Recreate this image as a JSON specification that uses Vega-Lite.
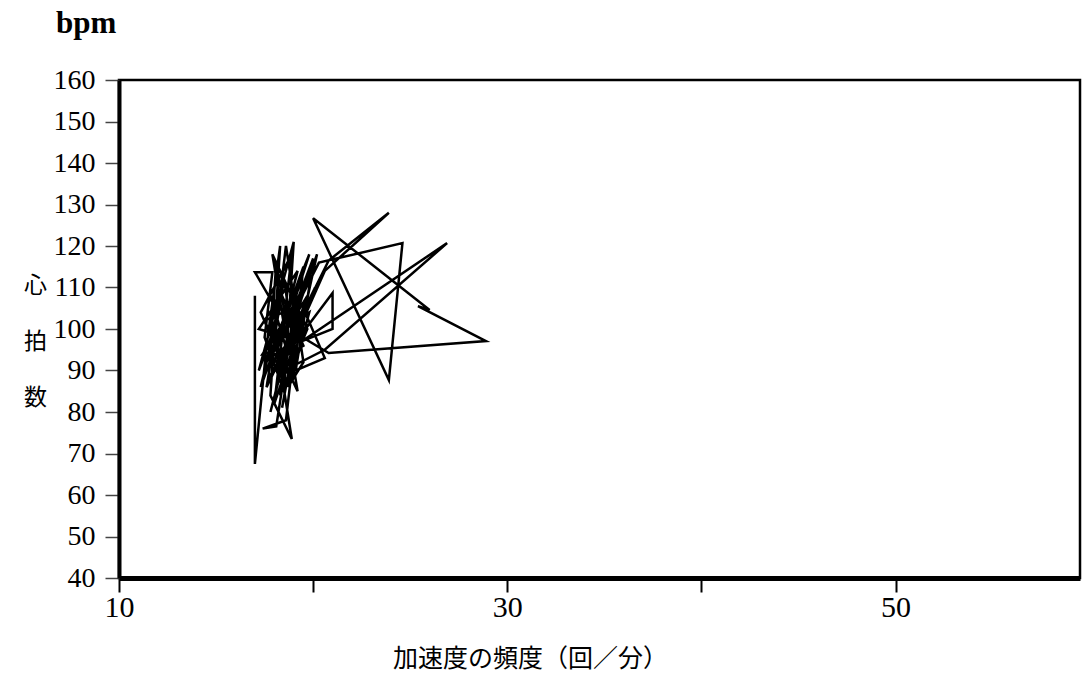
{
  "$schema": "https://vega.github.io/schema/vega-lite/v6.json",
  "width": 961,
  "height": 498,
  "autosize": {"type": "none"},
  "padding": {"left": 119, "top": 80, "right": 2, "bottom": 113},
  "background": "white",
  "config": {
    "view": {"stroke": "black", "strokeWidth": 2.5},
    "font": "Liberation Serif"
  },
  "title": {
    "text": "bpm",
    "anchor": "start",
    "frame": "group",
    "font": "Liberation Serif",
    "fontSize": 31,
    "fontWeight": "bold",
    "color": "black",
    "dx": -63,
    "offset": 2,
    "baseline": "alphabetic"
  },
  "data": {
    "values": [
      {"i": 1, "freq": 17.0, "hr": 108.0},
      {"i": 2, "freq": 17.0, "hr": 67.5},
      {"i": 3, "freq": 17.6, "hr": 96},
      {"i": 4, "freq": 18.3, "hr": 120},
      {"i": 5, "freq": 17.8, "hr": 84},
      {"i": 6, "freq": 18.9, "hr": 73.5},
      {"i": 7, "freq": 18.0, "hr": 100},
      {"i": 8, "freq": 17.2, "hr": 90},
      {"i": 9, "freq": 19.0, "hr": 121},
      {"i": 10, "freq": 18.5, "hr": 85},
      {"i": 11, "freq": 17.5, "hr": 98},
      {"i": 12, "freq": 17.9, "hr": 113.7},
      {"i": 13, "freq": 17.0, "hr": 113.7},
      {"i": 14, "freq": 18.2, "hr": 104},
      {"i": 15, "freq": 17.3, "hr": 86},
      {"i": 16, "freq": 19.5, "hr": 115},
      {"i": 17, "freq": 18.6, "hr": 78},
      {"i": 18, "freq": 17.4, "hr": 76},
      {"i": 19, "freq": 18.1, "hr": 76.5},
      {"i": 20, "freq": 19.2, "hr": 110},
      {"i": 21, "freq": 17.6, "hr": 92},
      {"i": 22, "freq": 19.8, "hr": 118},
      {"i": 23, "freq": 18.3, "hr": 96},
      {"i": 24, "freq": 20.0, "hr": 117},
      {"i": 25, "freq": 18.2, "hr": 88},
      {"i": 26, "freq": 19.7, "hr": 108},
      {"i": 27, "freq": 17.9, "hr": 94},
      {"i": 28, "freq": 20.3, "hr": 116},
      {"i": 29, "freq": 24.6, "hr": 120.7},
      {"i": 30, "freq": 23.9, "hr": 87.7},
      {"i": 31, "freq": 20.0, "hr": 126.7},
      {"i": 32, "freq": 26.0, "hr": 104.6},
      {"i": 33, "freq": 25.4, "hr": 105.5},
      {"i": 34, "freq": 28.9, "hr": 97.1},
      {"i": 35, "freq": 20.8, "hr": 94.2},
      {"i": 36, "freq": 19.1, "hr": 99},
      {"i": 37, "freq": 18.4, "hr": 81},
      {"i": 38, "freq": 19.3, "hr": 104},
      {"i": 39, "freq": 18.0, "hr": 90},
      {"i": 40, "freq": 20.8, "hr": 116.5},
      {"i": 41, "freq": 23.9, "hr": 128},
      {"i": 42, "freq": 20.6, "hr": 114},
      {"i": 43, "freq": 18.8, "hr": 95},
      {"i": 44, "freq": 21.0, "hr": 108.7},
      {"i": 45, "freq": 21.0, "hr": 100},
      {"i": 46, "freq": 19.4, "hr": 97},
      {"i": 47, "freq": 26.9, "hr": 120.7},
      {"i": 48, "freq": 20.6, "hr": 95},
      {"i": 49, "freq": 18.5, "hr": 90},
      {"i": 50, "freq": 19.6, "hr": 112},
      {"i": 51, "freq": 17.8, "hr": 80},
      {"i": 52, "freq": 19.0, "hr": 102},
      {"i": 53, "freq": 20.2, "hr": 118},
      {"i": 54, "freq": 18.7, "hr": 86},
      {"i": 55, "freq": 19.5, "hr": 92},
      {"i": 56, "freq": 18.6, "hr": 120},
      {"i": 57, "freq": 18.0, "hr": 97},
      {"i": 58, "freq": 19.9, "hr": 113},
      {"i": 59, "freq": 19.1, "hr": 90},
      {"i": 60, "freq": 20.6, "hr": 93},
      {"i": 61, "freq": 19.4, "hr": 106},
      {"i": 62, "freq": 17.5, "hr": 102},
      {"i": 63, "freq": 19.2, "hr": 85},
      {"i": 64, "freq": 18.1, "hr": 116},
      {"i": 65, "freq": 17.7, "hr": 88},
      {"i": 66, "freq": 19.6, "hr": 104},
      {"i": 67, "freq": 18.4, "hr": 92},
      {"i": 68, "freq": 17.3, "hr": 104},
      {"i": 69, "freq": 18.9, "hr": 118},
      {"i": 70, "freq": 18.0, "hr": 82},
      {"i": 71, "freq": 19.3, "hr": 100},
      {"i": 72, "freq": 17.8, "hr": 108},
      {"i": 73, "freq": 18.7, "hr": 94},
      {"i": 74, "freq": 20.1, "hr": 110},
      {"i": 75, "freq": 17.6, "hr": 86},
      {"i": 76, "freq": 18.5, "hr": 112},
      {"i": 77, "freq": 19.0, "hr": 96},
      {"i": 78, "freq": 17.4, "hr": 94},
      {"i": 79, "freq": 18.8, "hr": 104},
      {"i": 80, "freq": 18.3, "hr": 84},
      {"i": 81, "freq": 19.7, "hr": 100},
      {"i": 82, "freq": 17.9, "hr": 118},
      {"i": 83, "freq": 18.6, "hr": 98},
      {"i": 84, "freq": 17.2, "hr": 100},
      {"i": 85, "freq": 19.2, "hr": 114},
      {"i": 86, "freq": 18.0, "hr": 92},
      {"i": 87, "freq": 19.5, "hr": 96},
      {"i": 88, "freq": 18.4, "hr": 108},
      {"i": 89, "freq": 17.7, "hr": 96},
      {"i": 90, "freq": 18.9, "hr": 88},
      {"i": 91, "freq": 19.8, "hr": 104},
      {"i": 92, "freq": 18.2, "hr": 99}
    ]
  },
  "mark": {"type": "line", "color": "black", "strokeWidth": 2.5},
  "encoding": {
    "order": {"field": "i", "type": "quantitative"},
    "x": {
      "field": "freq",
      "type": "quantitative",
      "scale": {"domain": [10, 59.5], "nice": false, "zero": false},
      "axis": {
        "values": [10, 20, 30, 40, 50],
        "labelExpr": "datum.value % 20 == 10 ? datum.label : ''",
        "labelFlush": false,
        "labelOverlap": false,
        "grid": false,
        "domainColor": "black",
        "domainWidth": 5,
        "tickColor": "black",
        "tickWidth": 2,
        "tickSize": 14,
        "labelFont": "Liberation Serif",
        "labelFontSize": 30,
        "labelColor": "black",
        "labelPadding": 0,
        "title": "加速度の頻度（回／分）",
        "titleFont": "Noto Sans CJK JP",
        "titleFontSize": 25,
        "titleFontWeight": "normal",
        "titleColor": "black",
        "titleX": 411,
        "titleAlign": "center",
        "titleAnchor": "start",
        "titleBaseline": "alphabetic",
        "titleY": 88
      }
    },
    "y": {
      "field": "hr",
      "type": "quantitative",
      "scale": {"domain": [40, 160], "nice": false, "zero": false},
      "axis": {
        "values": [40, 50, 60, 70, 80, 90, 100, 110, 120, 130, 140, 150, 160],
        "grid": false,
        "domainColor": "black",
        "domainWidth": 4,
        "tickColor": "#444",
        "tickWidth": 1.5,
        "tickSize": 14,
        "labelFont": "Liberation Serif",
        "labelFontSize": 28,
        "labelColor": "black",
        "labelPadding": 10,
        "labelFlush": false,
        "title": ["心", "拍", "数"],
        "titleFont": "Noto Sans CJK JP",
        "titleFontSize": 23,
        "titleFontWeight": "normal",
        "titleColor": "black",
        "titleAngle": 0,
        "titleAlign": "center",
        "titleBaseline": "top",
        "titleLineHeight": 56,
        "titleX": -84,
        "titleY": 194
      }
    }
  }
}
